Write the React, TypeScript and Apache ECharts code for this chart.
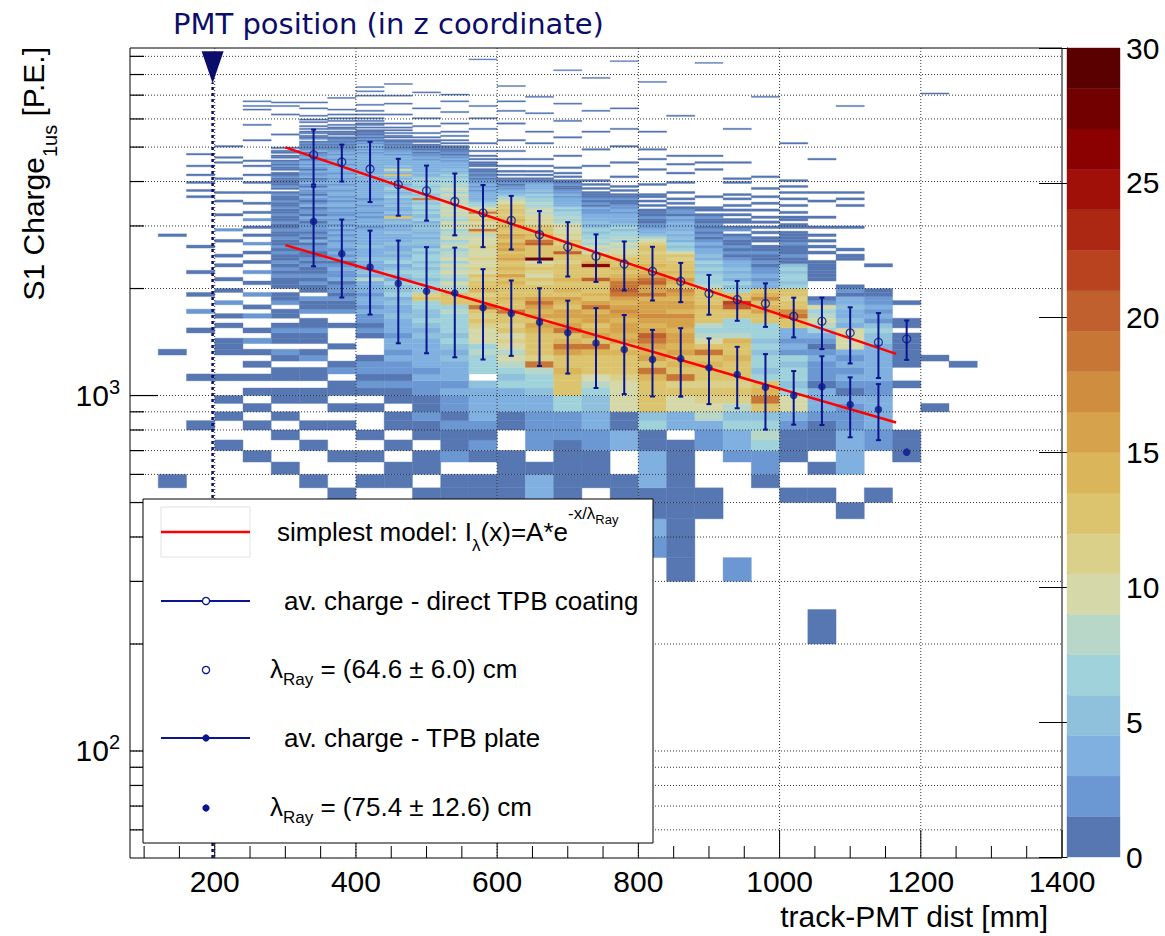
import React, { useEffect, useRef } from "react";
import * as echarts from "echarts";

const FONT = '"Liberation Sans", Arial, Helvetica, sans-serif';
const NAVY = "#0a168f";
const PMT_NAVY = "#0c0c6a";

const BIN_X = 40;
const BIN_Y = 50;
const X_MIN = 80;
const X_MAX = 1400;
const Y_MIN = 50;
const Y_MAX = 9500;

// colour palette (20 levels from 0 to 30)
const paletteColors = [
  "#5677b2", "#6b97d2", "#7fb0e0", "#8fc0dc", "#a0d2dc",
  "#b9d7c8", "#d5d8a8", "#dbd08a", "#dcc46e", "#dab55a",
  "#d6a34c", "#cf8d40", "#c87636", "#c0602f", "#b9431f",
  "#ad2813", "#a00f08", "#8b0000", "#730000", "#5a0000",
];
const paletteStep = 1.5;

const xTickLabels = [200, 400, 600, 800, 1000, 1200, 1400];
const xMinorTicks = [100, 150, 250, 300, 350, 450, 500, 550, 650, 700, 750, 850, 900, 950, 1050, 1100, 1150, 1250, 1300, 1350];
const yMajorTicks = [100, 1000];
const yMinorTicks = [60, 70, 80, 90, 200, 300, 400, 500, 600, 700, 800, 900, 2000, 3000, 4000, 5000, 6000, 7000, 8000, 9000];

// profiles
const profileX = [340, 380, 420, 460, 500, 540, 580, 620, 660, 700, 740, 780, 820, 860, 900, 940, 980, 1020, 1060, 1100, 1140, 1180];
const directMean = [4760, 4540, 4337, 3920, 3770, 3518, 3263, 3110, 2836, 2618, 2464, 2344, 2236, 2096, 1936, 1862, 1814, 1671, 1618, 1501, 1413, 1443];
const directErr = [840, 540, 835, 714, 665, 695, 648, 535, 468, 456, 376, 369, 385, 265, 248, 239, 254, 214, 267, 270, 293, 183];
const plateMean = [3090, 2507, 2300, 2066, 1965, 1944, 1765, 1700, 1607, 1501, 1406, 1347, 1262, 1270, 1197, 1146, 1055, 1000, 1058, 944, 913, 693];
const plateErr = [780, 620, 610, 663, 650, 663, 502, 407, 396, 348, 356, 338, 268, 277, 251, 225, 253, 172, 232, 181, 164, 0];

// exponential fits (straight on the log axis): end points
const fitDirect = [[300, 4990], [1165, 1310]];
const fitPlate = [[300, 2650], [1165, 840]];
const pmtX = 197;
const pmtTop = 7600;
const pmtArrowY = 8390;

// 2D histogram: [xLow, yLowOfFirstBin, counts per 50 P.E. bin]
const denseColumns: Array<[number, number, number[]]> = [
  [280, 500, [
    0,0,1,0,0,1,0,1,0,1, 1,0,1,1,0,1,2,0,1,1, 2,1,0,1,1,0,2,1,1,0, 1,1,1,2,1,2,1,2,1,1,
    2,1,2,1,1,2,1,1,2,1, 1,2,1,1,2,1,1,2,1,1, 2,1,1,2,1,0,1,2,1,1, 1,1,2,1,1,0,1,1,2,1,
    2,1,0,1,1,0,1,1,0,1]],
  [320, 500, [
    0,1,0,0,1,0,1,0,0,1, 1,0,1,1,0,2,1,0,1,1, 2,1,1,0,2,1,1,2,0,1, 1,2,1,2,1,1,2,1,2,1,
    1,2,2,1,3,1,2,1,2,2, 2,1,2,3,1,2,2,1,3,2, 1,2,3,1,2,2,3,1,2,3, 2,1,3,2,2,3,1,2,3,2,
    3,2,1,3,2,2,1,3,2,1, 2,1,2,1,0,2,1,1,0,1, 1,0,1,0,1,0,0,1,0,1]],
  [360, 500, [
    1,0,0,1,0,0,1,0,1,0, 1,1,0,2,1,0,0,1,0,0, 0,1,0,0,2,1,1,2,1,2, 2,1,3,2,2,3,2,1,3,2,
    3,2,3,4,2,3,2,3,2,3, 2,3,2,3,2,2,3,2,3,3, 2,3,2,3,3,2,3,4,2,3, 3,2,4,3,2,3,4,3,3,2,
    4,3,2,3,3,2,3,2,2,1, 2,1,2,1,2,1,1,0,1,1, 1,0,1,1,0,1,0,0,1,0]],
  [400, 500, [
    0,1,0,1,0,1,0,0,1,0, 1,2,1,2,2,1,0,0,0,1, 2,1,2,2,3,2,3,3,2,4, 3,4,8,4,5,4,3,4,5,4,
    4,3,5,4,3,4,3,4,3,2, 3,4,3,2,3,2,3,3,2,3, 3,2,3,4,3,3,4,3,4,3, 4,3,4,5,4,3,4,4,3,4,
    3,4,3,4,3,3,2,3,2,3, 2,3,2,2,1,2,1,2,1,1, 1,1,0,1,0,1,1,0,1,0, 1,0,0,1,0,0,1,0,0,0]],
  [440, 500, [
    0,1,1,0,1,0,1,1,0,1, 1,2,1,2,2,3,2,3,3,2, 4,3,4,5,3,4,5,4,6,5, 5,6,4,5,6,5,4,6,5,4,
    5,4,3,5,4,4,3,5,4,3, 4,5,4,12,4,5,4,4,5,4, 5,4,6,5,4,5,6,5,4,5, 6,4,5,12,4,5,10,4,5,3,
    4,3,4,3,3,2,3,2,2,1, 2,1,2,1,1,0,1,1,0,1, 0,1,0,1,0,0,1,0,0,0]],
  [480, 500, [
    1,0,1,1,0,1,1,2,1,1, 2,2,3,2,3,3,4,3,4,5, 4,5,6,5,5,6,7,12,11,6, 6,7,5,6,7,5,6,5,7,6,
    5,6,4,5,5,4,5,4,5,5, 5,4,6,5,5,6,5,6,6,5, 6,18,6,5,7,6,6,5,7,6, 5,6,5,4,5,4,4,3,4,3,
    3,3,2,3,2,2,1,2,1,1, 1,1,0,1,1,0,1,0,0,1]],
  [520, 500, [
    1,1,0,2,1,1,2,1,2,2, 3,2,4,3,4,5,4,5,6,5, 6,7,6,7,8,7,12,13,12,8, 8,9,7,8,10,8,9,7,9,8,
    8,7,9,8,7,9,8,8,7,9, 8,9,7,8,9,8,10,8,9,8, 9,8,8,10,7,8,9,7,8,7, 6,7,5,6,5,4,5,4,3,4,
    3,2,3,2,2,1,2,1,1,1, 1,0,1,0,1,0,0,1,0,0]],
  [560, 500, [
    1,1,0,1,2,1,2,3,4,3, 4,5,0,6,6,7,8,7,9,10, 10,11,12,11,13,18,12,13,11,14, 12,13,11,12,10,11,9,10,11,9,
    10,9,11,10,9,10,8,11,18,10, 11,10,12,11,10,18,11,9,7,6, 5,4,3,4,3,2,3,2,3,2, 2,1,2,1,2,1,1,0,1,1,
    1,0,1,0,1,0,0,1,0,0]],
  [600, 500, [
    1,1,1,1,0,0,1,1,3,4, 4,6,5,7,8,9,8,10,11,9, 12,11,13,12,18,13,12,14,13,12, 13,14,12,15,13,14,12,13,15,14,
    13,15,14,16,13,14,15,13,12,14, 13,12,14,12,11,13,12,11,12,10, 9,8,6,5,4,3,2,2,1,2, 1,1,0,1,0,1,0,0,1,0,
    0,0,1,0,0,0,0,1,0,0]],
  [640, 500, [
    3,3,1,0,2,2,2,2,3,4, 5,6,7,8,18,11,12,13,12,13, 14,15,13,15,14,16,18,15,13,12, 12,11,12,10,11,12,11,10,28,12,
    12,13,13,20,19,13,14,12,13,12, 11,10,11,9,10,8,9,8,7,8, 6,7,5,6,4,5,3,4,3,2, 1,1,0,1,0,1,0,0,1,0]],
  [680, 500, [
    1,1,1,1,1,2,2,2,6,6, 12,13,12,14,13,12,15,18,14,13, 19,15,14,16,15,13,14,15,13,14, 13,12,14,13,12,13,12,11,13,12,
    20,12,13,11,12,10,11,10,9,10, 9,8,7,8,6,7,5,6,4,4, 4,3,2,3,2,2,1,1,2,1, 1,0,1,0,1,0,0,1,0,0]],
  [720, 500, [
    0,1,1,1,2,2,3,3,5,5, 6,8,10,12,13,12,14,18,13,15, 14,13,16,15,14,18,15,13,14,12, 13,12,20,13,12,12,26,14,13,12,
    9,8,9,7,8,6,7,5,6,5, 4,5,3,3,4,2,2,3,1,2, 1,2,1,1,1,0,1,0,1,0]],
  [760, 500, [
    1,1,0,0,3,3,1,1,9,9, 10,9,11,12,13,12,14,13,15,14, 16,15,14,16,17,15,14,16,19,20, 19,18,15,14,13,14,12,13,12,11,
    10,9,8,9,7,8,6,7,5,6, 5,4,4,3,4,2,3,2,2,1, 1,2,1,1,0,1,0,1,0,0]],
  [800, 300, [
    0,2,3,1,1,3,3,3,1,1, 6,5,12,12,13,12,14,19,13,15, 14,16,19,20,15,14,16,17,15,16, 16,14,19,15,16,20,19,15,14,13,
    14,12,13,12,11,13,12,11,10,8, 5,4,3,2,2,1,1,2,1,1, 1,0,1,0,1,0,0,1,0,0]],
  [840, 300, [
    1,1,1,1,1,1,1,1,1,0, 4,4,9,10,12,11,18,12,14,13, 15,14,16,15,14,16,15,17,14,15, 16,14,15,17,13,14,15,13,14,12,
    13,12,11,12,10,6,5,6,4,5, 4,5,3,4,3,4,2,3,1,2, 2,1,0,1,0,1,0,0,1,0]],
  [880, 450, [
    1,1,0,0,0,2,2,4,8,10, 11,12,11,13,12,14,13,18,12,9, 8,7,8,12,13,12,14,13,12,13, 12,8,7,6,7,5,6,5,6,4,
    5,4,3,2,3,2,1,2,1,2, 1,2,1,1,2,1,0,1,1,0]],
  [920, 300, [
    2,0,0,0,0,0,0,2,3,4, 6,5,8,11,12,11,13,12,12,14, 13,12,14,8,7,6,7,12,13,20, 21,13,12,6,5,6,4,5,4,5,
    3,4,2,1,2,1,2,1,1,2, 1,0,2,1,0,1,1,0,1,0, 1,0,1,0,0,1,0,1,0,0]],
  [960, 550, [
    1,2,2,7,8,6,5,13,18,14, 13,6,5,6,7,5,6,5,6,6, 7,12,13,15,14,13,17,14,13,4, 3,2,3,2,2,1,2,1,1,2,
    1,1,0,1,1,0,1,0,1,0, 1,0,1,0,0,1,0,0,1,0]],
  [1000, 500, [
    1,0,0,1,1,1,2,3,9,9, 6,5,6,7,5,6,2,3,2,3, 3,12,13,18,17,12,13,11,12,13, 6,5,6,7,5,6,5,1,1,2,
    1,1,1,2,1,1,1,1,0,1, 1,0,1,1,0,1,0,0,1,0, 0,1,0,0,1,0,0,1,0,0]],
  [1040, 200, [
    1,0,0,0,0,0,1,0,1,0, 1,1,1,2,4,4,3,1,2,2, 2,3,2,1,2,3,7,8,9,8, 7,9,2,1,0,0,0,0,1,1,
    1,1,1,1,0,0,1,0,1,0, 1,0,1,0,0,1,0,0,0,1]],
  [1080, 450, [
    1,0,0,3,3,3,3,2,2,2, 3,1,2,3,2,3,2,3,9,10, 9,10,4,5,3,4,5,3,4,1, 2,1,0,0,0,0,0,0,0,1,
    1,0,1,0,0,0,0,0,0,0]],
  [1120, 450, [
    0,1,0,0,0,2,2,3,3,3, 3,2,2,4,3,4,3,4,3,5, 5,6,5,2,3,2,3,2,2,1, 1,0,0,0,0,0,0,1,0,0]],
  [1160, 650, [
    1,1,1,0,0,0,0,0,1,0, 0,1,1,1,1,1,1,0,1,1, 0,0,0,1,0,0,0,0,0,0]],
];

// isolated bins: [xLow, yLow, count]
const sparseCells: Array<[number, number, number]> = [
  [120, 2800, 1], [120, 1300, 1], [120, 550, 1],
  [160, 4750, 1], [160, 4400, 1], [160, 4150, 1], [160, 3950, 1], [160, 3750, 1], [160, 3600, 1],
  [160, 2600, 1], [160, 2200, 1], [160, 1900, 1], [160, 1700, 2], [160, 1500, 1], [160, 1100, 1], [160, 800, 1],
  [200, 5000, 1], [200, 4650, 1], [200, 4500, 1], [200, 4050, 1], [200, 3700, 1], [200, 3500, 1], [200, 3200, 1],
  [200, 2900, 2], [200, 2700, 1], [200, 2450, 1], [200, 2300, 1], [200, 2100, 1], [200, 1950, 1], [200, 1800, 2],
  [200, 1650, 1], [200, 1550, 1], [200, 1400, 1], [200, 1350, 1], [200, 1300, 1], [200, 1100, 1], [200, 950, 1],
  [200, 850, 1], [200, 700, 1],
  [240, 6700, 1], [240, 6500, 1], [240, 6350, 1], [240, 5750, 1], [240, 5200, 1], [240, 4550, 1], [240, 4400, 1],
  [240, 4150, 1], [240, 3950, 1], [240, 3700, 1], [240, 3450, 1], [240, 3250, 1], [240, 3100, 2], [240, 2950, 1],
  [240, 2800, 1], [240, 2650, 2], [240, 2500, 1], [240, 2350, 1], [240, 2200, 2], [240, 2050, 1], [240, 1900, 2],
  [240, 1750, 1], [240, 1650, 2], [240, 1500, 1], [240, 1400, 2], [240, 1300, 1], [240, 1200, 1], [240, 1100, 1],
  [240, 1000, 1], [240, 900, 1], [240, 800, 1], [240, 650, 1],
  [1200, 1250, 1], [1200, 900, 1], [1240, 1200, 1],
];

// single-entry bins in the sparse upper tails: [xLow, yLows]
const tailLines: Array<[number, number[]]> = [
  [280, [5400, 6150, 6500, 6650]],
  [320, [6100, 6400, 6650]],
  [360, [6000, 6150, 6350, 6850]],
  [400, [6550, 6950, 7150, 7350]],
  [440, [6150, 6600, 6950, 7500]],
  [480, [5700, 6000, 6400, 7100]],
  [520, [5500, 5800, 6250, 6700, 7000]],
  [560, [5100, 5600, 6000, 6500, 8800]],
  [600, [5200, 5800, 6300, 6700, 7400]],
  [640, [4600, 5100, 5500, 6200, 6900]],
  [680, [4700, 5300, 5900, 6600, 8200]],
  [720, [4000, 4400, 4900, 5500, 6300, 7800]],
  [760, [4100, 4500, 5000, 5600, 6400, 8700]],
  [800, [3600, 3900, 4300, 4600, 4900, 5500, 7600]],
  [840, [3950, 4200, 4450, 4700, 6100]],
  [880, [3600, 4300, 4500, 4700, 8600]],
  [920, [3950, 4050, 4500, 5600]],
  [960, [3600, 3800, 4100, 6900]],
  [1000, [4000, 5100]],
  [1040, [3500, 3700, 4600]],
  [1080, [2950, 3400, 3550, 3700, 6500]],
  [1200, [7050]],
];

function colorFor(c: number): string {
  const i = Math.min(paletteColors.length - 1, Math.floor(c / paletteStep));
  return paletteColors[i];
}

function buildCells(): number[][] {
  const out: number[][] = [];
  denseColumns.forEach(([x0, y0, counts]) => {
    counts.forEach((c, i) => {
      if (c > 0) out.push([x0, y0 + i * BIN_Y, c]);
    });
  });
  sparseCells.forEach(([x0, y, c]) => out.push([x0, y, c]));
  tailLines.forEach(([x0, ys]) => ys.forEach((y) => out.push([x0, y, 1])));
  return out;
}

function buildOption(): any {
  const cells = buildCells();

  const xTickData: number[][] = [];
  xTickLabels.forEach((v) => xTickData.push([v, 500, 0]));
  xMinorTicks.forEach((v) => xTickData.push([v, 500, 1]));
  const yTickData: number[][] = [];
  yMajorTicks.forEach((v) => yTickData.push([500, v, 0]));
  yMinorTicks.forEach((v) => yTickData.push([500, v, 1]));

  const errData: number[][] = [];
  profileX.forEach((x, i) => {
    if (directErr[i] > 0) errData.push([x, directMean[i] - directErr[i], directMean[i] + directErr[i]]);
    if (plateErr[i] > 0) errData.push([x, plateMean[i] - plateErr[i], plateMean[i] + plateErr[i]]);
  });

  const barData = paletteColors.map((_, i) => [0.5, i * paletteStep, (i + 1) * paletteStep, i]);

  const legendRich = {
    m: { fontSize: 26, fontFamily: FONT, fill: "#000" },
    sb: { fontSize: 17, fontFamily: FONT, fill: "#000", padding: [26, 0, 0, 0] },
    sp: { fontSize: 17, fontFamily: FONT, fill: "#000", padding: [0, 0, 38, 0] },
    sps: { fontSize: 13, fontFamily: FONT, fill: "#000", padding: [0, 0, 26, 0] },
    sr: { fontSize: 17, fontFamily: FONT, fill: "#000", padding: [20, 0, 0, 0] },
  };

  return {
    animation: false,
    backgroundColor: "#ffffff",
    textStyle: { fontFamily: FONT },
    grid: [
      { left: 130, top: 48, width: 932, height: 810, show: true, borderColor: "#000", borderWidth: 1, backgroundColor: "rgba(0,0,0,0)" },
      { left: 1067, top: 48, width: 53, height: 809 },
    ],
    xAxis: [
      {
        type: "value", gridIndex: 0, min: X_MIN, max: X_MAX, splitNumber: 7,
        axisLine: { show: false }, axisTick: { show: false }, splitLine: { show: false },
        axisLabel: {
          showMinLabel: false,
          formatter: (v: number) => (xTickLabels.indexOf(v) >= 0 ? String(v) : ""),
          fontSize: 30, color: "#000", fontFamily: FONT, margin: 8,
        },
      },
      { type: "value", gridIndex: 1, min: 0, max: 1, show: false },
    ],
    yAxis: [
      {
        type: "log", gridIndex: 0, min: Y_MIN, max: Y_MAX, logBase: 10,
        axisLine: { show: false }, axisTick: { show: false }, splitLine: { show: false },
        axisLabel: {
          showMinLabel: false, showMaxLabel: false, margin: 10,
          formatter: (v: number) => {
            const e = Math.round(Math.log10(v));
            if (Math.abs(v - Math.pow(10, e)) > 1e-6 * v) return "";
            return "{b|10}{s|" + e + "}";
          },
          rich: {
            b: { fontSize: 30, fontFamily: FONT, color: "#000" },
            s: { fontSize: 20, fontFamily: FONT, color: "#000", padding: [0, 0, 18, 0] },
          },
        },
      },
      {
        type: "value", gridIndex: 1, min: 0, max: 30, interval: 5, position: "right",
        axisLine: { show: true, lineStyle: { color: "#000", width: 1 } },
        axisTick: { show: true, inside: true, length: 28, lineStyle: { color: "#000", width: 1 } },
        splitLine: { show: false },
        axisLabel: { fontSize: 30, color: "#000", fontFamily: FONT, margin: 6 },
      },
    ],
    series: [
      {
        type: "custom", name: "hist", xAxisIndex: 0, yAxisIndex: 0, silent: true, z: 1,
        encode: { x: 0, y: 1 },
        data: cells,
        renderItem: (params: any, api: any) => {
          const x0 = api.value(0);
          const y0 = api.value(1);
          const c = api.value(2);
          const p0 = api.coord([x0, y0]);
          const p1 = api.coord([x0 + BIN_X, y0 + BIN_Y]);
          const col = colorFor(c);
          return {
            type: "rect",
            shape: { x: p0[0], y: p1[1], width: p1[0] - p0[0], height: p0[1] - p1[1] },
            style: { fill: col, stroke: col, lineWidth: 0.4 },
          };
        },
      },
      {
        type: "custom", name: "xticks", xAxisIndex: 0, yAxisIndex: 0, silent: true, z: 3,
        encode: { x: 0, y: 1 },
        data: xTickData,
        renderItem: (params: any, api: any) => {
          const v = api.value(0);
          const kind = api.value(2);
          const cs = params.coordSys;
          const px = api.coord([v, 1000])[0];
          const bottom = cs.y + cs.height;
          const len = kind === 0 ? 28 : 12;
          const children: any[] = [];
          if (kind === 0 && v < X_MAX) {
            children.push({ type: "line", shape: { x1: px, y1: cs.y, x2: px, y2: bottom }, style: { stroke: "#333", lineWidth: 1, lineDash: [1, 2] } });
          }
          children.push({ type: "line", shape: { x1: px, y1: bottom, x2: px, y2: bottom - len }, style: { stroke: "#000", lineWidth: 1 } });
          return { type: "group", children };
        },
      },
      {
        type: "custom", name: "yticks", xAxisIndex: 0, yAxisIndex: 0, silent: true, z: 3,
        encode: { x: 0, y: 1 },
        data: yTickData,
        renderItem: (params: any, api: any) => {
          const v = api.value(1);
          const kind = api.value(2);
          const cs = params.coordSys;
          const py = api.coord([500, v])[1];
          const len = kind === 0 ? 28 : 14;
          return {
            type: "group",
            children: [
              { type: "line", shape: { x1: cs.x, y1: py, x2: cs.x + cs.width, y2: py }, style: { stroke: "#333", lineWidth: 1, lineDash: [1, 2] } },
              { type: "line", shape: { x1: cs.x, y1: py, x2: cs.x + len, y2: py }, style: { stroke: "#000", lineWidth: 1.2 } },
            ],
          };
        },
      },
      {
        type: "line", name: "pmt", xAxisIndex: 0, yAxisIndex: 0, silent: true, z: 4,
        data: [[pmtX, Y_MIN], [pmtX, pmtTop]], symbol: "none",
        lineStyle: { color: PMT_NAVY, width: 2.5, type: [3, 3] },
        markPoint: {
          silent: true, symbol: "triangle", symbolSize: [22, 32], symbolRotate: 180,
          itemStyle: { color: PMT_NAVY }, label: { show: false },
          data: [{ coord: [pmtX, pmtArrowY] }],
        },
      },
      {
        type: "line", name: "fitDirect", xAxisIndex: 0, yAxisIndex: 0, silent: true, z: 5,
        data: fitDirect, symbol: "none", lineStyle: { color: "#ff0000", width: 2.5 },
      },
      {
        type: "line", name: "fitPlate", xAxisIndex: 0, yAxisIndex: 0, silent: true, z: 5,
        data: fitPlate, symbol: "none", lineStyle: { color: "#ff0000", width: 2.5 },
      },
      {
        type: "custom", name: "errors", xAxisIndex: 0, yAxisIndex: 0, silent: true, z: 6,
        encode: { x: 0, y: 1 },
        data: errData,
        renderItem: (params: any, api: any) => {
          const x = api.value(0);
          const lo = api.coord([x, api.value(1)]);
          const hi = api.coord([x, api.value(2)]);
          const st = { stroke: NAVY, lineWidth: 2 };
          return {
            type: "group",
            children: [
              { type: "line", shape: { x1: lo[0], y1: lo[1], x2: hi[0], y2: hi[1] }, style: st },
              { type: "line", shape: { x1: lo[0] - 2.5, y1: lo[1], x2: lo[0] + 2.5, y2: lo[1] }, style: st },
              { type: "line", shape: { x1: hi[0] - 2.5, y1: hi[1], x2: hi[0] + 2.5, y2: hi[1] }, style: st },
            ],
          };
        },
      },
      {
        type: "scatter", name: "direct", xAxisIndex: 0, yAxisIndex: 0, silent: true, z: 7,
        data: profileX.map((x, i) => [x, directMean[i]]),
        symbol: "circle", symbolSize: 8,
        itemStyle: { color: "rgba(0,0,0,0)", borderColor: NAVY, borderWidth: 1.3 },
      },
      {
        type: "scatter", name: "plate", xAxisIndex: 0, yAxisIndex: 0, silent: true, z: 7,
        data: profileX.map((x, i) => [x, plateMean[i]]),
        symbol: "circle", symbolSize: 7.5,
        itemStyle: { color: NAVY },
      },
      {
        type: "custom", name: "palette", xAxisIndex: 1, yAxisIndex: 1, silent: true, z: 1,
        encode: { x: 0, y: 1 },
        data: barData,
        renderItem: (params: any, api: any) => {
          const p0 = api.coord([0, api.value(1)]);
          const p1 = api.coord([1, api.value(2)]);
          const col = paletteColors[api.value(3)];
          return {
            type: "rect",
            shape: { x: p0[0], y: p1[1], width: p1[0] - p0[0], height: p0[1] - p1[1] },
            style: { fill: col, stroke: col, lineWidth: 0.4 },
          };
        },
      },
    ],
    graphic: [
      {
        type: "text", z: 100, x: 173, y: 24,
        style: { text: "PMT position (in z coordinate)", fontSize: 29, fontFamily: '"DejaVu Sans", sans-serif', fill: PMT_NAVY, verticalAlign: "middle", align: "left" },
      },
      {
        type: "text", z: 100, x: 33, y: 47, rotation: Math.PI / 2,
        style: {
          text: "{t|S1 Charge}{u|1us}{t| [P.E.]}", align: "right", verticalAlign: "middle", fill: "#000",
          rich: {
            t: { fontSize: 30, fontFamily: FONT, fill: "#000" },
            u: { fontSize: 20, fontFamily: FONT, fill: "#000", padding: [34, 0, 0, 0] },
          },
        },
      },
      {
        type: "text", z: 100, x: 1048, y: 916,
        style: { text: "track-PMT dist [mm]", fontSize: 30, fontFamily: FONT, fill: "#000", align: "right", verticalAlign: "middle" },
      },
      { type: "rect", z: 100, shape: { x: 143, y: 499, width: 510, height: 344 }, style: { fill: "#fff", stroke: "#000", lineWidth: 1 } },
      { type: "rect", z: 101, shape: { x: 161, y: 507, width: 89, height: 50 }, style: { fill: "#fff", stroke: "#e2e2e2", lineWidth: 1 } },
      { type: "line", z: 102, shape: { x1: 161, y1: 532, x2: 250, y2: 532 }, style: { stroke: "#ff0000", lineWidth: 2.5 } },
      { type: "line", z: 102, shape: { x1: 161, y1: 601, x2: 250, y2: 601 }, style: { stroke: NAVY, lineWidth: 2 } },
      { type: "circle", z: 103, shape: { cx: 206, cy: 601, r: 3.6 }, style: { fill: "#fff", stroke: NAVY, lineWidth: 1.3 } },
      { type: "circle", z: 103, shape: { cx: 206, cy: 670, r: 3.6 }, style: { fill: "#fff", stroke: NAVY, lineWidth: 1.3 } },
      { type: "line", z: 102, shape: { x1: 161, y1: 738, x2: 250, y2: 738 }, style: { stroke: NAVY, lineWidth: 2 } },
      { type: "circle", z: 103, shape: { cx: 206, cy: 738, r: 3.6 }, style: { fill: NAVY } },
      { type: "circle", z: 103, shape: { cx: 206, cy: 808, r: 3.6 }, style: { fill: NAVY } },
      {
        type: "text", z: 103, x: 277, y: 532,
        style: { text: "{m|simplest model: I}{sb|λ}{m|(x)=A*e}{sp|-x/λ}{sps|Ray}", verticalAlign: "middle", align: "left", fill: "#000", rich: legendRich },
      },
      {
        type: "text", z: 103, x: 284, y: 601,
        style: { text: "av. charge - direct TPB coating", fontSize: 26, fontFamily: FONT, verticalAlign: "middle", align: "left", fill: "#000" },
      },
      {
        type: "text", z: 103, x: 270, y: 669,
        style: { text: "{m|λ}{sr|Ray}{m| = (64.6 ± 6.0) cm}", verticalAlign: "middle", align: "left", fill: "#000", rich: legendRich },
      },
      {
        type: "text", z: 103, x: 284, y: 738,
        style: { text: "av. charge - TPB plate", fontSize: 26, fontFamily: FONT, verticalAlign: "middle", align: "left", fill: "#000" },
      },
      {
        type: "text", z: 103, x: 270, y: 807,
        style: { text: "{m|λ}{sr|Ray}{m| = (75.4 ± 12.6) cm}", verticalAlign: "middle", align: "left", fill: "#000", rich: legendRich },
      },
    ],
  };
}

export default function App() {
  const ref = useRef<HTMLDivElement>(null);
  useEffect(() => {
    if (!ref.current) return;
    const chart = echarts.init(ref.current, undefined, { renderer: "svg" });
    chart.setOption(buildOption());
    return () => {
      chart.dispose();
    };
  }, []);
  return (
    <div
      ref={ref}
      style={{ position: "absolute", left: 0, top: 0, width: 1165, height: 936, background: "#fff" }}
    />
  );
}
